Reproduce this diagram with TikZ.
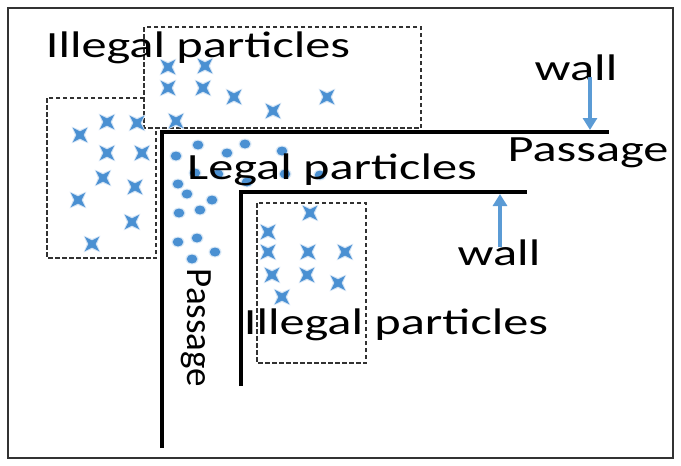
\documentclass[tikz,border=0pt]{standalone}
\usepackage{fontspec}
\usepackage{tikz}
\usetikzlibrary{arrows.meta}
\newfontfamily\labelfont[FakeStretch=1.36]{Carlito}
\newfontfamily\sidelabelfont{Carlito}
\definecolor{particleblue}{RGB}{74,144,210}
\definecolor{arrowblue}{RGB}{91,155,213}
\definecolor{zonegrey}{RGB}{50,50,50}
\newcommand{\illegalmark}[2]{%
  \fill[particleblue!25] (#1,#2) +(45:12) -- +(90:5) -- +(135:12) -- +(180:5)
        -- +(225:12) -- +(270:5) -- +(315:12) -- +(0:5) -- cycle;
  \fill[particleblue] (#1,#2) +(45:10) -- +(90:3.6) -- +(135:10) -- +(180:3.6)
        -- +(225:10) -- +(270:3.6) -- +(315:10) -- +(0:3.6) -- cycle;}
\newcommand{\legaldot}[2]{%
  \fill[particleblue!20] (#1,#2) ellipse (6.5 and 5.5);
  \fill[particleblue] (#1,#2) ellipse (5.3 and 4.5);}

\begin{document}
\begin{tikzpicture}[x=1pt, y=-1pt, font=\labelfont\fontsize{37}{40}\selectfont,
  wall/.style={line width=3.6pt},
  zone/.style={draw=zonegrey, dash pattern=on 4.5pt off 2.5pt, line width=1.1pt},
  pointer/.style={draw=arrowblue, line width=3.2pt, -{Triangle[width=14pt,length=12pt]}},
  tag/.style={inner sep=0pt, anchor=base}]
  \useasboundingbox (0,0) rectangle (681,466);
  \draw[black!80, line width=1.2pt] (8,8) rectangle (673,458);

  % zones of illegal particles
  \draw[zone] (47,98) rectangle (156,258);
  \draw[zone, fill=white] (144,27) rectangle (421,128);
  \draw[zone] (257,203) rectangle (366,363);
  \foreach \x/\y in {168/67, 205/66, 168/88, 203/88, 234/97, 273/111, 327/97, 176/121,
                     107/122, 137/123, 80/135, 107/153, 142/153, 103/178, 135/187,
                     78/200, 132/222, 92/244,
                     310/213, 268/232, 268/252, 308/252, 345/252, 272/275, 307/275,
                     338/283, 282/297}
    \illegalmark{\x}{\y};

  % walls
  \draw[wall] (162,448) -- (162,132) -- (609,132);
  \draw[wall] (241,386) -- (241,192) -- (527,192);

  % legal particles in the passage
  \foreach \x/\y in {198/145, 245/144, 176/156, 227/153, 282/151, 195/173, 218/174,
                     247/182, 285/174, 320/175, 178/184, 187/194, 212/200, 179/213,
                     200/210, 178/242, 197/238, 215/252, 192/259}
    \legaldot{\x}{\y};

  \node[tag] (illegaltop) at (198,57) {Illegal particles};
  \node[tag] (legal) at (332,179) {Legal particles};
  \node[tag] (passageh) at (588,161) {Passage};
  \node[tag] (walltop) at (576,80) {wall};
  \node[tag] (wallbot) at (499,265) {wall};
  \node[tag] (illegalbot) at (396,334) {Illegal particles};
  \node[inner sep=0pt, rotate=-90, font=\sidelabelfont\fontsize{37}{40}\selectfont]
       (passagev) at (196,328) {Passage};

  \coordinate (hitouter) at (590,130);
  \coordinate (hitinner) at (500,194);
  \draw[pointer] ([xshift=14pt,yshift=3pt]walltop.base) -- (hitouter);
  \draw[pointer] ([xshift=1pt,yshift=18pt]wallbot.base) -- (hitinner);
\end{tikzpicture}
\end{document}
